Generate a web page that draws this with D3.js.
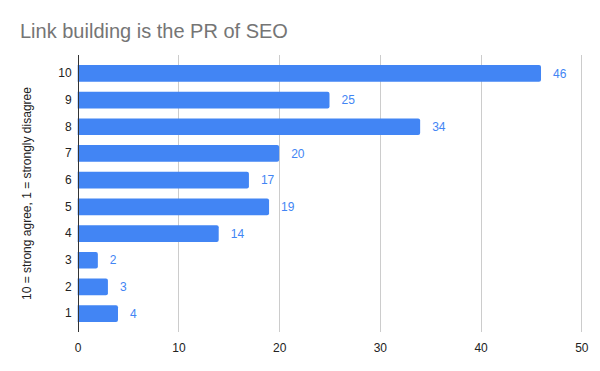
<!DOCTYPE html>
<html><head><meta charset="utf-8">
<script src="https://cdn.jsdelivr.net/npm/d3@7"></script>
<style>body{margin:0;background:#fff}svg{display:block;font-family:Arial,"Liberation Sans",sans-serif}</style>
</head><body>
<script>
const categories = ["10","9","8","7","6","5","4","3","2","1"];
const values = [46,25,34,20,17,19,14,2,3,4];
const xTicks = [0,10,20,30,40,50];
const title = "Link building is the PR of SEO";
const yLabel = "10 = strong agree, 1 = strongly disagree";

const W=600,H=371;
const m={left:77.7,right:600-581.3,top:55,bottom:371-332};
const svg=d3.select("body").append("svg").attr("width",W).attr("height",H);
const x=d3.scaleLinear().domain([0,50]).range([m.left,W-m.right]);
const y=d3.scaleBand().domain(categories).range([m.top,H-m.bottom]).padding(0.375);

svg.append("text").attr("x",20).attr("y",38).attr("font-size",20).attr("fill","#757575").text(title);

// grid
svg.append("g").selectAll("line").data(xTicks.filter(d=>d>0)).join("line")
  .attr("x1",d=>Math.round(x(d))+0.5).attr("x2",d=>Math.round(x(d))+0.5)
  .attr("y1",m.top).attr("y2",H-m.bottom).attr("stroke","#cccccc");

// bars with rounded right corners
const r=2;
svg.append("g").selectAll("path").data(values).join("path")
  .attr("fill","#4285f4")
  .attr("d",(d,i)=>{
    const x0=x(0),x1=x(d),y0=y(categories[i]),h=y.bandwidth();
    const rr=Math.min(r,(x1-x0)/2);
    return `M${x0},${y0}H${x1-rr}Q${x1},${y0} ${x1},${y0+rr}V${y0+h-rr}Q${x1},${y0+h} ${x1-rr},${y0+h}H${x0}Z`;
  });

// value labels
svg.append("g").selectAll("text").data(values).join("text")
  .attr("x",d=>x(d)+12).attr("y",(d,i)=>y(categories[i])+y.bandwidth()/2)
  .attr("dy","0.35em").attr("font-size",12).attr("fill","#4285f4").text(d=>d);

// y axis line
svg.append("line").attr("x1",Math.round(x(0))+0.5).attr("x2",Math.round(x(0))+0.5)
  .attr("y1",m.top).attr("y2",H-m.bottom).attr("stroke","#333");

// y tick labels
const yAxis=d3.axisLeft(y).tickSize(0).tickPadding(6);
const gy=svg.append("g").attr("transform",`translate(${x(0)},0)`).call(yAxis);
gy.select(".domain").remove();
gy.selectAll("text").attr("font-size",12).attr("fill","#222").attr("font-family","Arial,'Liberation Sans',sans-serif");

// x tick labels
const xAxis=d3.axisBottom(x).tickValues(xTicks).tickSize(0).tickPadding(11);
const gx=svg.append("g").attr("transform",`translate(0,${H-m.bottom})`).call(xAxis);
gx.select(".domain").remove();
gx.selectAll("text").attr("font-size",12).attr("fill","#222").attr("font-family","Arial,'Liberation Sans',sans-serif");

// y label
svg.append("text").attr("transform",`translate(31,${(m.top+H-m.bottom)/2}) rotate(-90)`)
  .attr("text-anchor","middle").attr("font-size",12).attr("fill","#222").text(yLabel);
</script>
</body></html>
